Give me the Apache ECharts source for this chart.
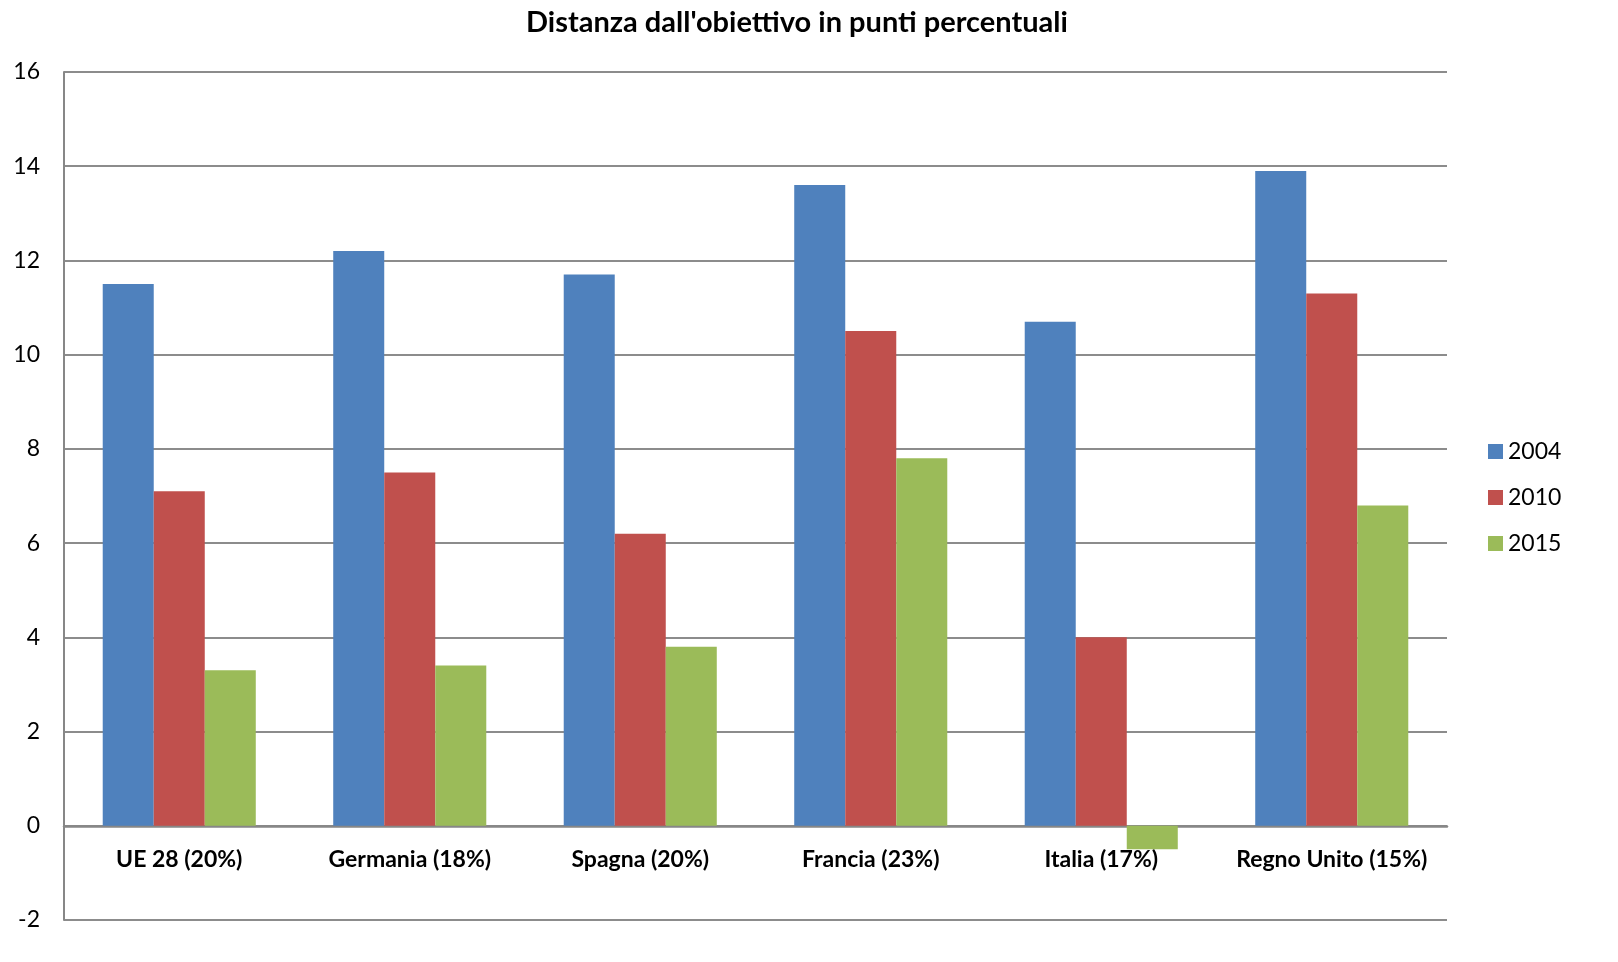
<!DOCTYPE html>
<html>
<head>
<meta charset="utf-8">
<script src="https://cdn.jsdelivr.net/npm/echarts@6/dist/echarts.min.js"></script>
<style>
html,body{margin:0;padding:0;background:#fff;}
#chart{width:1618px;height:962px;}
</style>
</head>
<body>
<div id="chart"></div>
<script>
const categories = ['UE 28 (20%)', 'Germania (18%)', 'Spagna (20%)', 'Francia (23%)', 'Italia (17%)', 'Regno Unito (15%)'];
const values2004 = [11.5, 12.2, 11.7, 13.6, 10.7, 13.9];
const values2010 = [7.1, 7.5, 6.2, 10.5, 4.0, 11.3];
const values2015 = [3.3, 3.4, 3.8, 7.8, -0.5, 6.8];
const seriesNames = ['2004', '2010', '2015'];
const colors = ['#4F81BD', '#C0504D', '#9BBB59'];
const FONT = 'Lato, "Open Sans", sans-serif';

const chart = echarts.init(document.getElementById('chart'));
const plotH = 962 - 72 - 42;
const zeroOffset = -plotH * 2 / 18;
chart.setOption({
  animation: false,
  title: {
    text: "Distanza dall'obiettivo in punti percentuali",
    left: 521,
    top: 3,
    textStyle: { fontFamily: FONT, fontSize: 29, fontWeight: 'bold', color: '#000' }
  },
  legend: {
    orient: 'vertical',
    left: 1483,
    top: 435,
    itemWidth: 15,
    itemHeight: 15,
    itemGap: 23,
    icon: 'rect',
    textStyle: { fontFamily: FONT, fontSize: 23, color: '#000' },
    data: seriesNames
  },
  grid: { left: 64, right: 171, top: 72, bottom: 42, containLabel: false },
  xAxis: {
    type: 'category',
    data: categories,
    offset: zeroOffset,
    axisLine: { onZero: false, lineStyle: { color: '#878787', width: 2.5 } },
    axisTick: { show: false },
    axisLabel: { interval: 0, fontFamily: FONT, fontSize: 23, fontWeight: 'bold', color: '#000', margin: 22 }
  },
  yAxis: {
    type: 'value',
    min: -2, max: 16, interval: 2,
    axisLine: { show: true, lineStyle: { color: '#878787', width: 2 } },
    axisTick: { show: false },
    axisLabel: { fontFamily: FONT, fontSize: 23, color: '#000', margin: 24 },
    splitLine: { lineStyle: { color: '#8c8c8c', width: 2 } }
  },
  series: [
    { name: seriesNames[0], type: 'bar', data: values2004, itemStyle: { color: colors[0] }, barGap: '0%', barCategoryGap: '33.6%' },
    { name: seriesNames[1], type: 'bar', data: values2010, itemStyle: { color: colors[1] }, barGap: '0%', barCategoryGap: '33.6%' },
    { name: seriesNames[2], type: 'bar', data: values2015, itemStyle: { color: colors[2] }, barGap: '0%', barCategoryGap: '33.6%' }
  ]
});
</script>
</body>
</html>
